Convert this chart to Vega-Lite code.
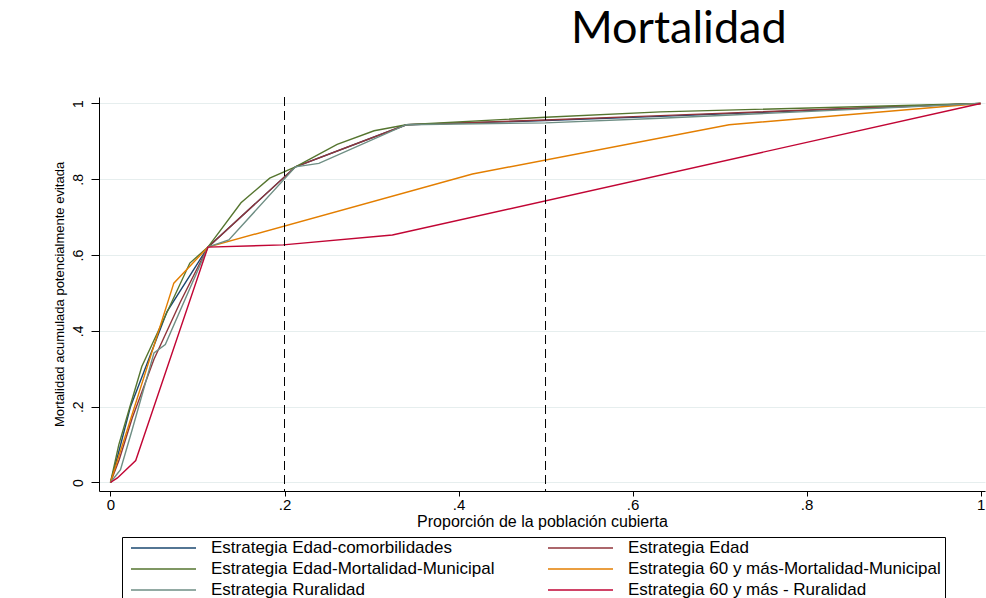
{
  "$schema": "https://vega.github.io/schema/vega-lite/v6.json",
  "width": 886,
  "height": 394,
  "autosize": {"type": "none"},
  "padding": {"left": 99, "top": 97, "right": 1, "bottom": 107},
  "background": "white",
  "config": {
    "view": {"stroke": null},
    "font": "Liberation Sans"
  },
  "title": {
    "text": "Mortalidad",
    "font": "Lato",
    "fontSize": 45,
    "fontWeight": "normal",
    "color": "black",
    "anchor": "start",
    "frame": "group",
    "dx": 472,
    "offset": 45
  },
  "datasets": {
    "curvas": [
      {"estrategia": "Estrategia Edad-comorbilidades", "x": 0, "y": 0},
      {"estrategia": "Estrategia Edad-comorbilidades", "x": 0.01, "y": 0.085},
      {"estrategia": "Estrategia Edad-comorbilidades", "x": 0.023, "y": 0.2},
      {"estrategia": "Estrategia Edad-comorbilidades", "x": 0.065, "y": 0.451},
      {"estrategia": "Estrategia Edad-comorbilidades", "x": 0.112, "y": 0.621},
      {"estrategia": "Estrategia Edad-comorbilidades", "x": 0.2126, "y": 0.833},
      {"estrategia": "Estrategia Edad-comorbilidades", "x": 0.34, "y": 0.944},
      {"estrategia": "Estrategia Edad-comorbilidades", "x": 0.5, "y": 0.955},
      {"estrategia": "Estrategia Edad-comorbilidades", "x": 0.632, "y": 0.966},
      {"estrategia": "Estrategia Edad-comorbilidades", "x": 1, "y": 1},

      {"estrategia": "Estrategia Edad", "x": 0, "y": 0},
      {"estrategia": "Estrategia Edad", "x": 0.01, "y": 0.06},
      {"estrategia": "Estrategia Edad", "x": 0.025, "y": 0.17},
      {"estrategia": "Estrategia Edad", "x": 0.05, "y": 0.325},
      {"estrategia": "Estrategia Edad", "x": 0.08, "y": 0.475},
      {"estrategia": "Estrategia Edad", "x": 0.112, "y": 0.621},
      {"estrategia": "Estrategia Edad", "x": 0.2126, "y": 0.833},
      {"estrategia": "Estrategia Edad", "x": 0.34, "y": 0.944},
      {"estrategia": "Estrategia Edad", "x": 0.5, "y": 0.9565},
      {"estrategia": "Estrategia Edad", "x": 0.632, "y": 0.968},
      {"estrategia": "Estrategia Edad", "x": 1, "y": 1},

      {"estrategia": "Estrategia Edad-Mortalidad-Municipal", "x": 0, "y": 0},
      {"estrategia": "Estrategia Edad-Mortalidad-Municipal", "x": 0.0096, "y": 0.1},
      {"estrategia": "Estrategia Edad-Mortalidad-Municipal", "x": 0.023, "y": 0.205},
      {"estrategia": "Estrategia Edad-Mortalidad-Municipal", "x": 0.036, "y": 0.306},
      {"estrategia": "Estrategia Edad-Mortalidad-Municipal", "x": 0.0912, "y": 0.579},
      {"estrategia": "Estrategia Edad-Mortalidad-Municipal", "x": 0.112, "y": 0.621},
      {"estrategia": "Estrategia Edad-Mortalidad-Municipal", "x": 0.15, "y": 0.738},
      {"estrategia": "Estrategia Edad-Mortalidad-Municipal", "x": 0.183, "y": 0.803},
      {"estrategia": "Estrategia Edad-Mortalidad-Municipal", "x": 0.2126, "y": 0.833},
      {"estrategia": "Estrategia Edad-Mortalidad-Municipal", "x": 0.2605, "y": 0.892},
      {"estrategia": "Estrategia Edad-Mortalidad-Municipal", "x": 0.303, "y": 0.928},
      {"estrategia": "Estrategia Edad-Mortalidad-Municipal", "x": 0.34, "y": 0.944},
      {"estrategia": "Estrategia Edad-Mortalidad-Municipal", "x": 0.5, "y": 0.9637},
      {"estrategia": "Estrategia Edad-Mortalidad-Municipal", "x": 0.632, "y": 0.978},
      {"estrategia": "Estrategia Edad-Mortalidad-Municipal", "x": 1, "y": 1},

      {"estrategia": "Estrategia 60 y más-Mortalidad-Municipal", "x": 0, "y": 0},
      {"estrategia": "Estrategia 60 y más-Mortalidad-Municipal", "x": 0.0728, "y": 0.526},
      {"estrategia": "Estrategia 60 y más-Mortalidad-Municipal", "x": 0.112, "y": 0.621},
      {"estrategia": "Estrategia 60 y más-Mortalidad-Municipal", "x": 0.416, "y": 0.814},
      {"estrategia": "Estrategia 60 y más-Mortalidad-Municipal", "x": 0.711, "y": 0.944},
      {"estrategia": "Estrategia 60 y más-Mortalidad-Municipal", "x": 1, "y": 1},

      {"estrategia": "Estrategia Ruralidad", "x": 0, "y": 0},
      {"estrategia": "Estrategia Ruralidad", "x": 0.0115, "y": 0.034},
      {"estrategia": "Estrategia Ruralidad", "x": 0.025, "y": 0.14},
      {"estrategia": "Estrategia Ruralidad", "x": 0.05, "y": 0.342},
      {"estrategia": "Estrategia Ruralidad", "x": 0.063, "y": 0.364},
      {"estrategia": "Estrategia Ruralidad", "x": 0.112, "y": 0.621},
      {"estrategia": "Estrategia Ruralidad", "x": 0.136, "y": 0.64},
      {"estrategia": "Estrategia Ruralidad", "x": 0.2126, "y": 0.833},
      {"estrategia": "Estrategia Ruralidad", "x": 0.2395, "y": 0.842},
      {"estrategia": "Estrategia Ruralidad", "x": 0.34, "y": 0.944},
      {"estrategia": "Estrategia Ruralidad", "x": 0.5, "y": 0.949},
      {"estrategia": "Estrategia Ruralidad", "x": 0.632, "y": 0.961},
      {"estrategia": "Estrategia Ruralidad", "x": 1, "y": 1},

      {"estrategia": "Estrategia 60 y más - Ruralidad", "x": 0, "y": 0},
      {"estrategia": "Estrategia 60 y más - Ruralidad", "x": 0.008, "y": 0.012},
      {"estrategia": "Estrategia 60 y más - Ruralidad", "x": 0.029, "y": 0.058},
      {"estrategia": "Estrategia 60 y más - Ruralidad", "x": 0.112, "y": 0.621},
      {"estrategia": "Estrategia 60 y más - Ruralidad", "x": 0.1985, "y": 0.627},
      {"estrategia": "Estrategia 60 y más - Ruralidad", "x": 0.324, "y": 0.653},
      {"estrategia": "Estrategia 60 y más - Ruralidad", "x": 1, "y": 1}
    ],
    "cortes": [
      {"x": 0.2},
      {"x": 0.5}
    ]
  },
  "layer": [
    {
      "description": "thin separator line under the slide heading",
      "mark": {"type": "rule", "color": "#e3ecec", "strokeWidth": 1, "clip": false},
      "encoding": {
        "x": {"datum": -0.1011, "type": "quantitative"},
        "x2": {"datum": 1.0069},
        "y": {"datum": 1.0733, "type": "quantitative"}
      }
    },
    {
      "data": {"name": "curvas"},
      "mark": {"type": "line", "strokeWidth": 1.4, "clip": false},
      "encoding": {
        "x": {
          "field": "x",
          "type": "quantitative",
          "scale": {"domain": [-0.0132, 1.0051], "nice": false, "zero": false},
          "axis": {
            "title": "Proporción de la población cubierta",
            "values": [0, 0.2, 0.4, 0.6, 0.8, 1],
            "labelExpr": "datum.value == 0 ? '0' : datum.value == 1 ? '1' : replace(format(datum.value, '.1f'), '0.', '.')",
            "grid": false,
            "domainColor": "black",
            "domainWidth": 1,
            "tickColor": "black",
            "tickSize": 5,
            "labelFontSize": 15,
            "labelColor": "black",
            "labelPadding": 1,
            "labelFlush": false,
            "titleFontSize": 16,
            "titleFontWeight": "normal",
            "titleColor": "black",
            "titlePadding": 1
          }
        },
        "y": {
          "field": "y",
          "type": "quantitative",
          "scale": {"domain": [-0.02243, 1.01715], "nice": false, "zero": false},
          "axis": {
            "title": "Mortalidad acumulada potencialmente evitada",
            "values": [0, 0.2, 0.4, 0.6, 0.8, 1],
            "labelExpr": "datum.value == 0 ? '0' : datum.value == 1 ? '1' : replace(format(datum.value, '.1f'), '0.', '.')",
            "grid": true,
            "gridColor": "#e6eeee",
            "gridWidth": 1,
            "domainColor": "black",
            "domainWidth": 1,
            "tickColor": "black",
            "tickSize": 8,
            "labelAngle": 270,
            "labelAlign": "center",
            "labelBaseline": "bottom",
            "labelFontSize": 14,
            "labelColor": "black",
            "labelPadding": 6,
            "labelFlush": false,
            "titleFontSize": 13,
            "titleFontWeight": "normal",
            "titleColor": "black",
            "titlePadding": 5
          }
        },
        "color": {
          "field": "estrategia",
          "type": "nominal",
          "scale": {
            "domain": [
              "Estrategia Edad-comorbilidades",
              "Estrategia Edad-Mortalidad-Municipal",
              "Estrategia Ruralidad",
              "Estrategia Edad",
              "Estrategia 60 y más-Mortalidad-Municipal",
              "Estrategia 60 y más - Ruralidad"
            ],
            "range": ["#1a476f", "#55752f", "#6e8e84", "#90353b", "#e37e00", "#c10534"]
          },
          "legend": {
            "title": null,
            "orient": "none",
            "legendX": 23,
            "legendY": 440,
            "columns": 2,
            "symbolType": "stroke",
            "symbolSize": 4225,
            "symbolStrokeWidth": 1.4,
            "symbolOffset": 4,
            "clipHeight": 14,
            "labelFontSize": 17,
            "labelColor": "black",
            "labelOffset": 14,
            "labelLimit": 0,
            "columnPadding": 48,
            "rowPadding": 4,
            "padding": 4,
            "strokeColor": "black",
            "fillColor": "white"
          }
        }
      }
    },
    {
      "data": {"name": "cortes"},
      "mark": {"type": "rule", "color": "black", "strokeWidth": 1, "strokeDash": [9, 5]},
      "encoding": {
        "x": {"field": "x", "type": "quantitative"}
      }
    }
  ]
}
